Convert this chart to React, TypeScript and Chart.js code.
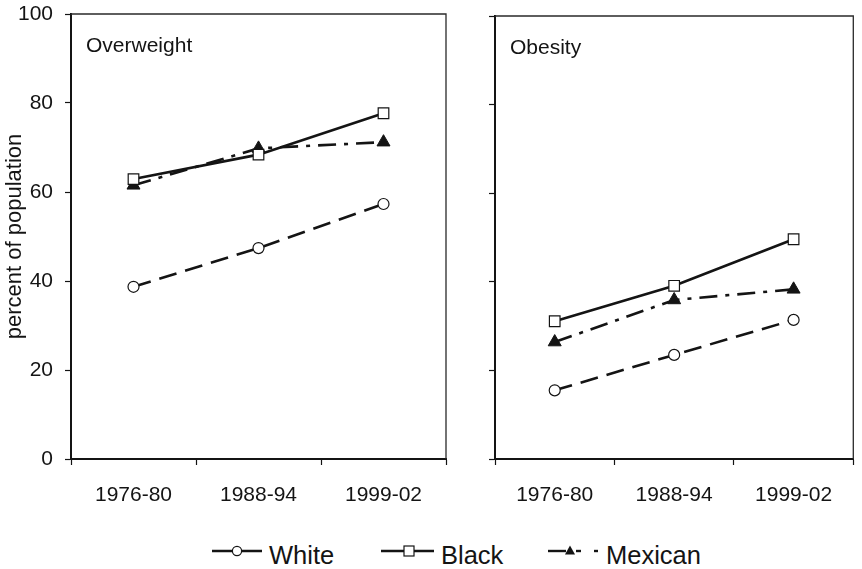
import React, { useEffect, useRef } from "react";
import { Chart, registerables } from "chart.js";

Chart.register(...registerables);

const periods = ["1976-80", "1988-94", "1999-02"];
const overweightWhite = [38.7, 47.4, 57.3];
const overweightBlack = [62.9, 68.4, 77.7];
const overweightMexican = [61.5, 69.8, 71.2];
const obesityWhite = [15.5, 23.5, 31.4];
const obesityBlack = [31.1, 39.1, 49.6];
const obesityMexican = [26.4, 35.9, 38.3];
const seriesNames = ["White", "Black", "Mexican"];
const panelTitles = ["Overweight", "Obesity"];
const yAxisTitle = "percent of population";

const FONT = "'Liberation Sans', Arial, Helvetica, sans-serif";
const INK = "#141414";

const decorPlugin = {
  id: "panelDecor",
  afterDraw(chart: any, _args: any, opts: any) {
    const { ctx, chartArea: a } = chart;
    ctx.save();
    ctx.strokeStyle = "#2a2a2a";
    ctx.lineWidth = 1.3;
    ctx.beginPath();
    ctx.moveTo(a.left, a.top);
    ctx.lineTo(a.right, a.top);
    ctx.lineTo(a.right, a.bottom);
    ctx.stroke();
    ctx.fillStyle = INK;
    ctx.font = `21px ${FONT}`;
    ctx.textBaseline = "alphabetic";
    ctx.textAlign = "left";
    ctx.fillText(opts.title, a.left + 15, a.top + 38);
    ctx.restore();
  },
};

type PanelProps = {
  left: number;
  width: number;
  height: number;
  padTop: number;
  padRight: number;
  yWidth: number;
  title: string;
  white: number[];
  black: number[];
  mexican: number[];
  showY: boolean;
};

function Panel(p: PanelProps) {
  const ref = useRef<HTMLCanvasElement>(null);
  useEffect(() => {
    const canvas = ref.current!;
    const chart = new Chart(canvas, {
      type: "line",
      data: {
        labels: periods,
        datasets: [
          {
            label: seriesNames[0],
            data: p.white,
            borderColor: INK,
            borderWidth: 2.6,
            borderDash: [18, 9],
            pointStyle: "circle",
            pointRadius: 5.5,
            pointBackgroundColor: "#fff",
            pointBorderColor: INK,
            pointBorderWidth: 1.2,
          },
          {
            label: seriesNames[1],
            data: p.black,
            borderColor: INK,
            borderWidth: 2.6,
            pointStyle: "rect",
            pointRadius: 7.5,
            pointBackgroundColor: "#fff",
            pointBorderColor: INK,
            pointBorderWidth: 1.2,
          },
          {
            label: seriesNames[2],
            data: p.mexican,
            borderColor: INK,
            borderWidth: 2.6,
            borderDash: [18, 8, 4, 8],
            pointStyle: "triangle",
            pointRadius: 7.5,
            pointBackgroundColor: INK,
            pointBorderColor: INK,
            pointBorderWidth: 1,
          },
        ],
      },
      options: {
        animation: false,
        responsive: false,
        devicePixelRatio: 1,
        layout: { padding: { top: p.padTop, right: p.padRight, left: 0, bottom: 0 } },
        plugins: {
          legend: { display: false },
          tooltip: { enabled: false },
          panelDecor: { title: p.title },
        } as any,
        scales: {
          x: {
            offset: true,
            grid: {
              offset: true,
              drawOnChartArea: false,
              tickLength: 6,
              tickColor: INK,
              tickWidth: 1.2,
            },
            border: { display: true, color: INK, width: 2 },
            ticks: {
              font: { family: FONT, size: 21 },
              color: INK,
              padding: 18,
              maxRotation: 0,
            },
            afterFit: (s: any) => {
              s.height = p.height - 459;
              s.paddingLeft = 0;
              s.paddingRight = 0;
            },
          },
          y: {
            min: 0,
            max: 100,
            grid: {
              drawOnChartArea: false,
              tickLength: 6,
              tickColor: INK,
              tickWidth: 1.2,
            },
            border: { display: true, color: INK, width: 2 },
            ticks: {
              stepSize: 20,
              display: p.showY,
              font: { family: FONT, size: 21 },
              color: INK,
              padding: 12,
            },
            title: {
              display: p.showY,
              text: yAxisTitle,
              font: { family: FONT, size: 22 },
              color: INK,
              padding: 2,
            },
            afterFit: (s: any) => {
              s.width = p.yWidth;
              s.paddingTop = 0;
              s.paddingBottom = 0;
            },
          },
        },
      },
      plugins: [decorPlugin],
    });
    return () => chart.destroy();
  }, []);
  return (
    <canvas
      ref={ref}
      width={p.width}
      height={p.height}
      style={{ position: "absolute", left: p.left, top: 0, width: p.width, height: p.height }}
    />
  );
}

function LegendIcon({ kind }: { kind: number }) {
  const c = INK;
  if (kind === 0) {
    return (
      <svg width={54} height={20} style={{ display: "block" }}>
        <line x1={2} y1={10} x2={52} y2={10} stroke={c} strokeWidth={2.4} />
        <circle cx={27} cy={10} r={4.6} fill="#fff" stroke={c} strokeWidth={1.2} />
      </svg>
    );
  }
  if (kind === 1) {
    return (
      <svg width={56} height={20} style={{ display: "block" }}>
        <line x1={2} y1={10} x2={55} y2={10} stroke={c} strokeWidth={2.4} />
        <rect x={25} y={5} width={10} height={10} fill="#fff" stroke={c} strokeWidth={1.2} />
      </svg>
    );
  }
  return (
    <svg width={56} height={20} style={{ display: "block" }}>
      <line x1={2} y1={10} x2={20} y2={10} stroke={c} strokeWidth={2.4} />
      <polygon points="24,4.5 29,13.5 19,13.5" fill={c} />
      <line x1={30} y1={10} x2={35} y2={10} stroke={c} strokeWidth={2.4} />
      <line x1={48} y1={10} x2={52} y2={10} stroke={c} strokeWidth={2.4} />
    </svg>
  );
}

const legendIconLeft = [210, 379, 546];
const legendTextLeft = [269, 441, 606];

export default function App() {
  return (
    <div
      style={{
        position: "absolute",
        left: 0,
        top: 0,
        width: 862,
        height: 569,
        background: "#fff",
        overflow: "hidden",
      }}
    >
      <Panel
        left={0}
        width={455}
        height={520}
        padTop={14}
        padRight={9}
        yWidth={71}
        title={panelTitles[0]}
        white={overweightWhite}
        black={overweightBlack}
        mexican={overweightMexican}
        showY={true}
      />
      <Panel
        left={430}
        width={432}
        height={520}
        padTop={16}
        padRight={4}
        yWidth={65}
        title={panelTitles[1]}
        white={obesityWhite}
        black={obesityBlack}
        mexican={obesityMexican}
        showY={false}
      />
      {seriesNames.map((name, i) => (
        <React.Fragment key={name}>
          <div style={{ position: "absolute", left: legendIconLeft[i], top: 541 }}>
            <LegendIcon kind={i} />
          </div>
          <div
            style={{
              position: "absolute",
              left: legendTextLeft[i],
              top: 540,
              fontFamily: FONT,
              fontSize: 25.5,
              lineHeight: "30px",
              color: INK,
              whiteSpace: "nowrap",
            }}
          >
            {name}
          </div>
        </React.Fragment>
      ))}
    </div>
  );
}
